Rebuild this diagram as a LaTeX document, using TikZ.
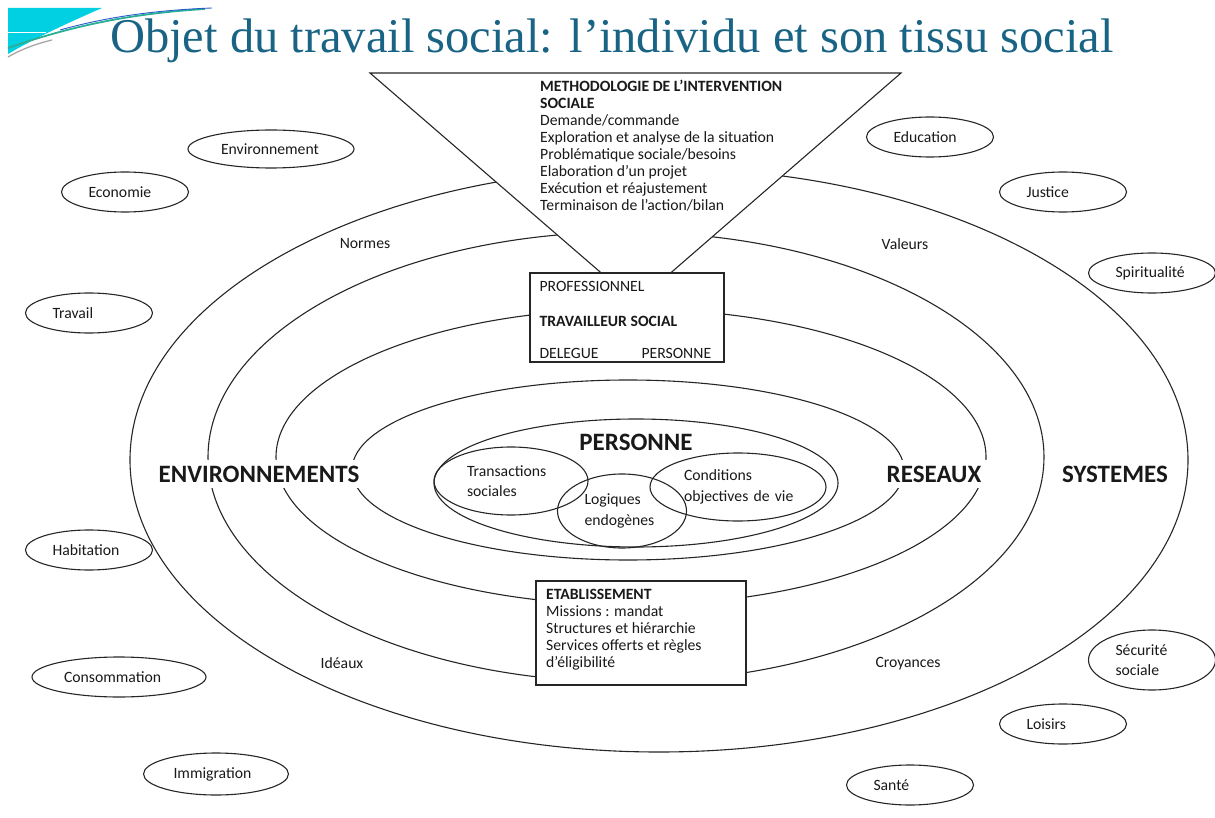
\documentclass[tikz,border=0pt]{standalone}
\usepackage{fontspec}
\setmainfont{Carlito}
\newfontfamily\titrefont{Liberation Serif}
\usetikzlibrary{shapes.geometric}
\definecolor{titrebleu}{RGB}{25,100,132}
\definecolor{decocyan}{RGB}{0,208,226}
\definecolor{decovert}{RGB}{40,175,150}
\definecolor{decobleu}{RGB}{40,90,200}
\tikzset{
  trait/.style={line width=1.1pt, draw=black!85},
  petit/.style={font=\fontsize{15.7}{17}\selectfont, text=black!90},
  gros/.style={font=\fontsize{25}{28}\selectfont\bfseries, text=black!90},
  bulle/.style={ellipse, trait, inner sep=0pt, align=left, petit,
    minimum width=127pt, minimum height=40pt, text width=73pt},
  boite/.style={rectangle, trait, fill=white, inner sep=0pt},
}

\begin{document}
\begin{tikzpicture}[x=1pt,y=-1pt]
  \useasboundingbox (0,0) rectangle (1215,818);

  % Decoration
  \fill[decocyan] (8,8) -- (102,8) .. controls (70,22) and (35,38) .. (8,54) -- cycle;
  \draw[white, line width=1pt] (8,33) -- (46,33);
  \draw[decovert, line width=1.8pt] (8,48) .. controls (60,30) and (120,14) .. (205,9);
  \draw[decobleu, line width=0.9pt] (60,30) .. controls (110,16) and (160,10) .. (212,8);
  \draw[gray!70, line width=1.3pt] (8,57) .. controls (20,50) and (35,44) .. (52,40);

  % Title
  \node[anchor=base west, inner sep=0pt, text=titrebleu,
    font=\titrefont\fontsize{48.5}{50}\selectfont] (titre) at (110,53)
    {Objet du travail social: l’individu et son tissu social};

  % Rings
  \draw[trait] (659,460) ellipse (529 and 292);
  \draw[trait] (626,457) ellipse (418 and 225);
  \draw[trait] (631,457) ellipse (355 and 148);
  \draw[trait] (628,470) ellipse (276 and 90);
  \draw[trait] (636,483) ellipse (202 and 64);

  % Person
  \node[gros] (personne) at (636,442) {PERSONNE};
  \node[bulle, minimum width=154pt, minimum height=68pt, text width=88pt,
    font=\fontsize{15.7}{20.5}\selectfont] (transac) at (511,481) {Transactions\\sociales};
  \node[bulle, minimum width=176pt, minimum height=68pt, text width=108pt,
    font=\fontsize{15.7}{20.5}\selectfont] (cond) at (738,487) {Conditions\\\mbox{objectives de vie}};
  \node[bulle, minimum width=129pt, minimum height=74pt, text width=75pt,
    font=\fontsize{15.7}{20.5}\selectfont] (logiq) at (622,511) {Logiques\\endogènes};

  % Triangle
  \draw[trait, fill=white] (370,73) -- (901,73) -- (636,303) -- cycle;
  \node[petit, anchor=north west, inner sep=0pt, align=left] (methodo) at (540,80)
    {\textbf{METHODOLOGIE DE L’INTERVENTION}\\
     \textbf{SOCIALE}\\
     Demande/commande\\
     Exploration et analyse de la situation\\
     Problématique sociale/besoins\\
     Elaboration d’un projet\\
     Exécution et réajustement\\
     Terminaison de l’action/bilan};

  % Boxes
  \node[boite, minimum width=194pt, minimum height=89pt] (pro) at (627,317.5) {};
  \node[petit, anchor=west] (prof) at (536,286) {PROFESSIONNEL};
  \node[petit, anchor=west] (trav) at (536,321) {\textbf{TRAVAILLEUR SOCIAL}};
  \node[petit, anchor=west] (deleg) at (536,353) {DELEGUE};
  \node[petit, anchor=west] (pers) at (638,353) {PERSONNE};

  \node[boite, minimum width=210pt, minimum height=104pt] (etab) at (641,633) {};
  \node[petit, anchor=north west, inner sep=0pt, align=left] (etabtxt) at (546,589)
    {\textbf{ETABLISSEMENT}\\
     Missions : mandat\\
     Structures et hiérarchie\\
     Services offerts et règles\\
     d’éligibilité};

  % Ring labels
  \node[petit] (normes) at (365,244) {Normes};
  \node[petit] (valeurs) at (905,244) {Valeurs};
  \node[petit] (ideaux) at (342,663) {Idéaux};
  \node[petit] (croy) at (908,664) {Croyances};
  \node[gros, fill=white, inner sep=6pt] (envir) at (259,474) {ENVIRONNEMENTS};
  \node[gros, fill=white, inner sep=6pt] (reseaux) at (934,474) {RESEAUX};
  \node[gros, fill=white, inner sep=4pt] (systemes) at (1115,474) {SYSTEMES};

  % Surrounding fields
  \node[bulle, minimum width=166pt, minimum height=38pt, text width=100pt] (environ) at (271,149) {Environnement};
  \node[bulle] (econ) at (125,192) {Economie};
  \node[bulle] (travail) at (89,313) {Travail};
  \node[bulle] (habit) at (89,550) {Habitation};
  \node[bulle, minimum width=174pt, text width=110pt] (conso) at (119,677) {Consommation};
  \node[bulle, minimum width=145pt, minimum height=42pt, text width=85pt] (immig) at (216,774) {Immigration};
  \node[bulle] (educ) at (930,137) {Education};
  \node[bulle] (justice) at (1063,192) {Justice};
  \node[bulle] (spirit) at (1152,273) {Spiritualité};
  \node[bulle, minimum height=60pt, font=\fontsize{15.7}{20}\selectfont] (secu) at (1152,660) {Sécurité\\sociale};
  \node[bulle] (loisirs) at (1063,724) {Loisirs};
  \node[bulle] (sante) at (910,785) {Santé};
\end{tikzpicture}
\end{document}
